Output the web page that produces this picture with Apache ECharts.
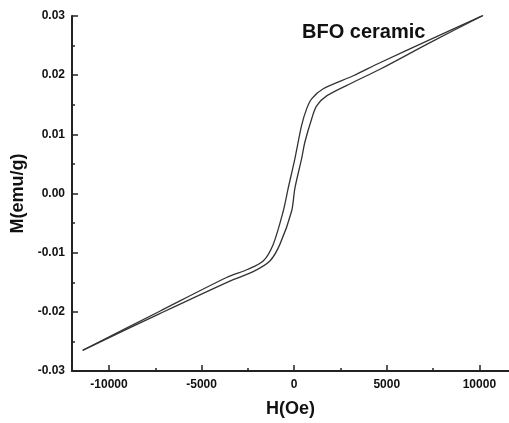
<!DOCTYPE html>
<html><head><meta charset="utf-8">
<script src="https://cdn.jsdelivr.net/npm/echarts@6/dist/echarts.min.js"></script>
<style>html,body{margin:0;padding:0;background:#fff}#c{width:509px;height:423px}</style>
</head><body><div id="c"></div>
<script>
// Descending-field branch (from +H to -H)
const hDown = [10200, 7335, 4632, 3189, 1568, 941, 670, 400, 38, -324, -595, -1135, -1676, -2500, -3654, -7260, -11422];
const mDown = [0.0301, 0.0260, 0.0221, 0.0199, 0.0177, 0.0160, 0.0143, 0.0115, 0.0059, 0.0009, -0.0030, -0.0086, -0.0114, -0.0128, -0.0142, -0.0199, -0.0265];
// Ascending-field branch (from -H to +H)
const hUp = [-11422, -7260, -3476, -2216, -1314, -773, -141, 38, 400, 578, 941, 1211, 1751, 3189, 4632, 7335, 10200];
const mUp = [-0.0265, -0.0203, -0.0148, -0.0132, -0.0114, -0.0086, -0.0030, 0.0009, 0.0059, 0.0087, 0.0126, 0.0148, 0.0165, 0.0188, 0.0210, 0.0255, 0.0301];
const xMajorTicks = [-10000, -5000, 0, 5000, 10000];
const xMinorTicks = [-7500, -2500, 2500, 7500];
const titleText = 'BFO ceramic';
const xName = 'H(Oe)';
const yName = 'M(emu/g)';

const font = '"Liberation Sans", Arial, sans-serif';
const chart = echarts.init(document.getElementById('c'), null, {renderer: 'canvas'});
const lineStyle = {color: '#333', width: 1.3};
chart.setOption({
  animation: false,
  backgroundColor: '#fff',
  grid: {left: 72, right: 0, top: 16, bottom: 49, containLabel: false},
  title: {
    text: titleText, left: 297, top: 17,
    textStyle: {fontFamily: font, fontWeight: 'bold', fontSize: 20, color: '#111'}
  },
  xAxis: [{
    type: 'value', min: -12000, max: 11600, position: 'bottom',
    name: xName, nameLocation: 'middle', nameGap: 29,
    nameTextStyle: {fontFamily: font, fontWeight: 'bold', fontSize: 18, color: '#111'},
    axisLine: {show: true, onZero: false, lineStyle: {color: '#222', width: 2}},
    axisTick: {show: true, inside: true, length: 6, customValues: xMajorTicks, lineStyle: {color: '#222', width: 1.5}},
    axisLabel: {customValues: xMajorTicks, margin: 8, fontFamily: font, fontWeight: 'bold', fontSize: 12, color: '#111',
      formatter: v => String(v)},
    splitLine: {show: false}
  }, {
    type: 'value', min: -12000, max: 11600, position: 'bottom',
    axisLine: {show: false, onZero: false},
    axisTick: {show: true, inside: true, length: 3, customValues: xMinorTicks, lineStyle: {color: '#222', width: 1.5}},
    axisLabel: {show: false},
    splitLine: {show: false}
  }],
  yAxis: {
    type: 'value', min: -0.03, max: 0.03, interval: 0.01,
    name: yName, nameLocation: 'middle', nameGap: 38, nameRotate: 90,
    nameTextStyle: {fontFamily: font, fontWeight: 'bold', fontSize: 18, color: '#111'},
    axisLine: {show: true, onZero: false, lineStyle: {color: '#222', width: 2}},
    axisTick: {show: true, inside: true, length: 6, lineStyle: {color: '#222', width: 1.5}},
    minorTick: {show: true, splitNumber: 2, length: 3, lineStyle: {color: '#222', width: 1.5}},
    axisLabel: {margin: 7, fontFamily: font, fontWeight: 'bold', fontSize: 12, color: '#111',
      formatter: v => v.toFixed(2)},
    splitLine: {show: false}
  },
  series: [{
    type: 'line', xAxisIndex: 0, showSymbol: false, smooth: 0.3, lineStyle: lineStyle,
    data: hDown.map((h, i) => [h, mDown[i]])
  }, {
    type: 'line', xAxisIndex: 0, showSymbol: false, smooth: 0.3, lineStyle: lineStyle,
    data: hUp.map((h, i) => [h, mUp[i]])
  }]
});
</script></body></html>
